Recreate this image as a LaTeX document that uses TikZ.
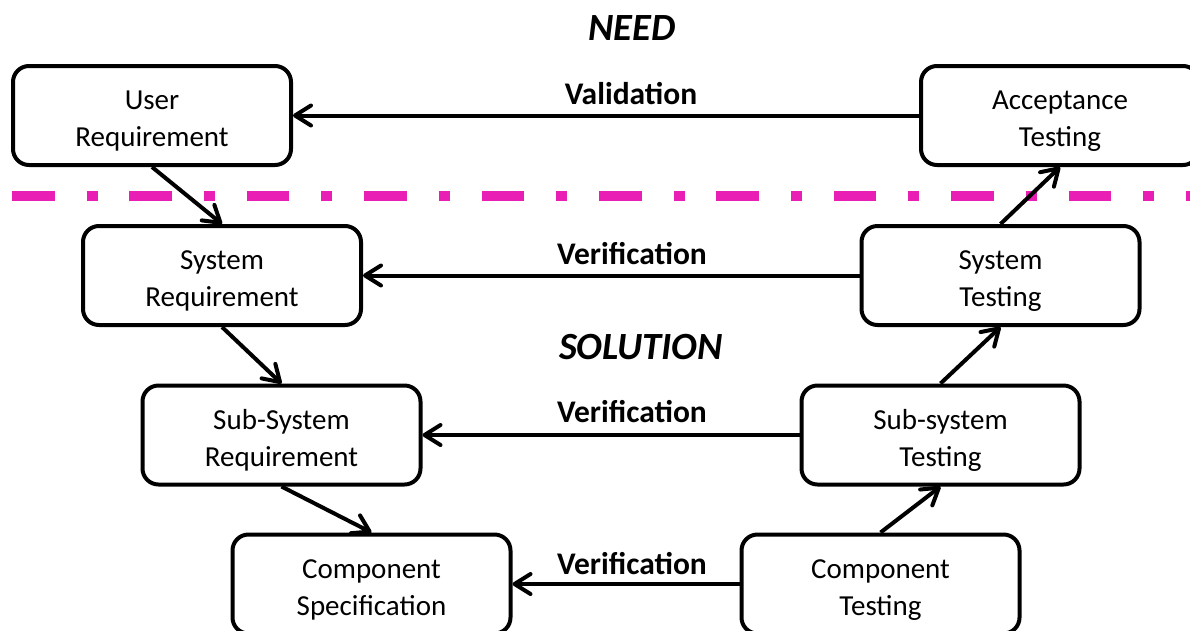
\documentclass[tikz,border=0pt]{standalone}
\usepackage{fontspec}
\setmainfont{Carlito}
\usetikzlibrary{arrows.meta}
\definecolor{splitpink}{RGB}{233,30,180}
% invisible strut that pushes the two text lines slightly below the box centre
\newcommand{\lowerstrut}{\rule{0pt}{30.5pt}}
\tikzset{
  box/.style={draw, line width=4pt, rounded corners=16pt, minimum width=278pt,
    minimum height=99pt, align=center, inner sep=0pt,
    font=\fontsize{29}{37}\selectfont},
  conn/.style={line width=4pt, -{Straight Barb[length=16pt, width=20pt, round]}},
  lbl/.style={anchor=base, inner sep=0pt, font=\bfseries\fontsize{31.5}{36}\selectfont},
  phase/.style={anchor=base, inner sep=0pt, font=\bfseries\itshape\fontsize{38.5}{42}\selectfont},
  divider/.style={line width=10pt, color=splitpink, line cap=butt,
    dash pattern=on 42.5pt off 32pt on 11pt off 31.9pt}
}
\begin{document}
\begin{tikzpicture}[x=1pt, y=-1pt]
\useasboundingbox (0,0) rectangle (1190,630);
\clip (0,0) rectangle (1190,630);

% need / solution boundary
\coordinate (dl) at (12,196);
\coordinate (dr) at (1200,196);
\draw[divider] (dl) -- (dr);

% left branch: requirements
\node[box] (ur) at (152,115.5) {\lowerstrut User\\Requirement};
\node[box] (sr) at (222,275.5) {\lowerstrut System\\Requirement};
\node[box] (ssr) at (281.5,435) {\lowerstrut Sub-System\\Requirement};
\node[box] (cs) at (371.5,584) {\lowerstrut Component\\Specification};

% right branch: testing
\node[box] (at) at (1060,115.5) {\lowerstrut Acceptance\\Testing};
\node[box] (st) at (1000.5,275.5) {\lowerstrut System\\Testing};
\node[box] (sst) at (940.5,435) {\lowerstrut Sub-system\\Testing};
\node[box] (ct) at (880.5,584) {\lowerstrut Component\\Testing};

% phase titles
\node[phase] (need) at (632,40) {NEED};
\node[phase] (sol) at (641,359) {SOLUTION};

% decomposition
\draw[conn] (ur.south) -- (sr.north);
\draw[conn] (sr.south) -- (ssr.north);
\draw[conn] (ssr.south) -- (cs.north);

% integration
\draw[conn] (ct.north) -- (sst.south);
\draw[conn] (sst.north) -- (st.south);
\draw[conn] (st.north) -- (at.south);

% validation / verification links
\draw[conn] (at.west) -- (ur.east);
\draw[conn] (st.west) -- (sr.east);
\draw[conn] (sst.west) -- (ssr.east);
\draw[conn] (ct.west) -- (cs.east);

\node[lbl] (val) at (631,104) {Validation};
\node[lbl] (ver1) at (632,264) {Verification};
\node[lbl] (ver2) at (632,422) {Verification};
\node[lbl] (ver3) at (632,574) {Verification};
\end{tikzpicture}
\end{document}
